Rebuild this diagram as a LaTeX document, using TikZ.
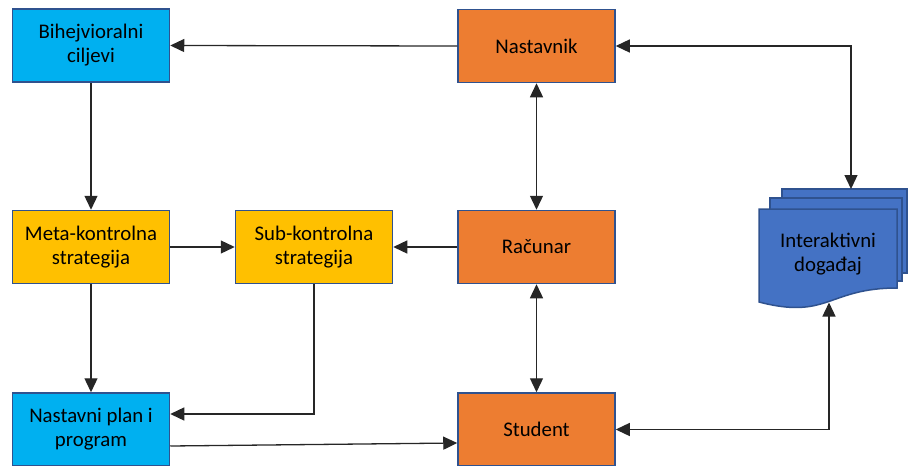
\documentclass[tikz,border=0pt]{standalone}
\usepackage{fontspec}
\setmainfont{Carlito}
\usetikzlibrary{arrows.meta}
\definecolor{skyfill}{HTML}{00B0F0}
\definecolor{orangefill}{HTML}{ED7D31}
\definecolor{goldfill}{HTML}{FFC000}
\definecolor{docfill}{HTML}{4472C4}
\definecolor{edgeblue}{HTML}{2F528F}
\tikzset{
  box/.style={draw=edgeblue, line width=1.5pt, minimum width=157pt, minimum height=73pt,
    inner sep=2pt, align=center, font=\fontsize{20.8}{24}\selectfont},
  skybox/.style={box, fill=skyfill},
  orangebox/.style={box, fill=orangefill},
  goldbox/.style={box, fill=goldfill},
  docpage/.style={draw=edgeblue, line width=1.5pt, fill=docfill},
  link/.style={draw=black!85, line width=1.3pt},
  tip/.style={Triangle[length=14pt,width=13pt]},
  arr/.style={link, -{Triangle[length=14pt,width=13pt]}},
  dblarr/.style={link, {Triangle[length=14pt,width=13pt]}-{Triangle[length=14pt,width=13pt]}},
}
\begin{document}
\begin{tikzpicture}[x=1pt,y=-1pt]
\useasboundingbox (0,0) rectangle (908,466);

% boxes
\node[skybox]    (bih)   at (91,45.5)    {Bihejvioralni\\ciljevi};
\node[orangebox] (nast)  at (536.5,46)   {Nastavnik};
\node[goldbox]   (meta)  at (91,247)     {Meta-kontrolna\\strategija};
\node[goldbox]   (sub)   at (314,247)    {Sub-kontrolna\\strategija};
\node[orangebox] (rac)   at (536.5,247)  {Računar};
\node[skybox]    (plan)  at (91,429.5)   {Nastavni plan i\\program};
\node[orangebox] (stud)  at (536.5,429.5){Student};

% stacked documents
\draw[docpage] (782,189) rectangle (907,273);
\draw[docpage] (770,198) rectangle (902,281);
\draw[docpage] (759,209) -- (897,209) -- (897,288)
   .. controls (828,288) and (828,320) .. (759,302) -- cycle;
\node[font=\fontsize{20.8}{24}\selectfont, align=center] (doc) at (828,254) {Interaktivni\\događaj};
\coordinate (docTop) at (851,189);
\coordinate (docBot) at (829,302.5);

% connectors
\draw[arr] (nast.west) -- (bih.east);
\draw[arr] (bih.south) -- (meta.north);
\draw[arr] (meta.east) -- (sub.west);
\draw[arr] (rac.west) -- (sub.east);
\draw[arr] (meta.south) -- (plan.north);
\draw[arr] (sub.south) |- ([yshift=15.5pt]plan.east);
\draw[arr] ([yshift=-16.5pt]plan.east) -- ([yshift=-13.5pt]stud.west);
\draw[dblarr] (nast.south) -- (rac.north);
\draw[dblarr] (rac.south) -- (stud.north);
\draw[dblarr] (nast.east) -| (docTop);
\draw[dblarr] (stud.east) -| (docBot);
\end{tikzpicture}
\end{document}
